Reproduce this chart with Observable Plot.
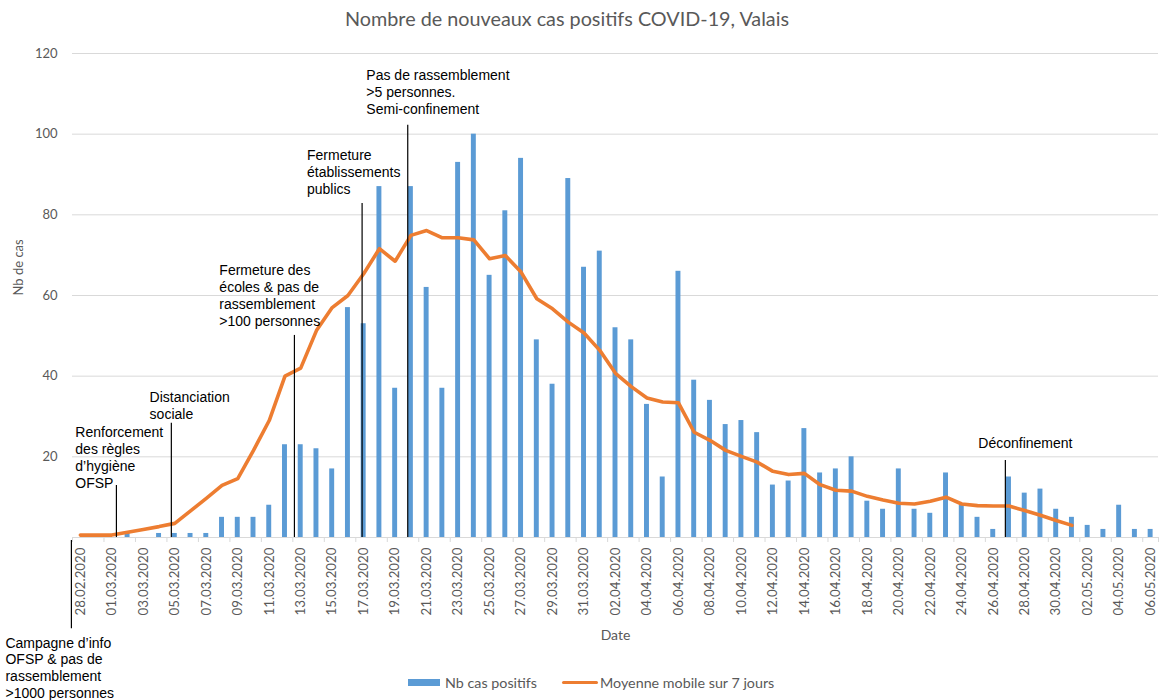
<!DOCTYPE html>
<html>
<head>
<meta charset="utf-8">
<script src="https://cdn.jsdelivr.net/npm/d3@7"></script>
<script src="https://cdn.jsdelivr.net/npm/@observablehq/plot@0.6"></script>
<style>
  body { margin: 0; background: #fff; width: 1168px; height: 700px; position: relative; overflow: hidden; font-family: Lato, "Open Sans", sans-serif; }
  #title { position: absolute; left: 0; top: 0; width: 1134px; height: 36px; line-height: 36px; text-align: center; font-size: 19.8px; color: #595959; }
  #chart { position: absolute; left: 0; top: 36px; }
  .leg { position: absolute; top: 672px; height: 20px; display: flex; align-items: center; font-size: 14.3px; color: #595959; }
  .sw-bar { width: 32px; height: 7px; background: #5B9BD5; margin-right: 5px; }
  .sw-line { width: 36px; height: 3px; background: #ED7D31; margin-right: 2px; border-radius: 2px; }
</style>
</head>
<body>
<div id="title">Nombre de nouveaux cas positifs COVID-19, Valais</div>
<div id="chart"></div>
<div class="leg" style="left:408px"><div class="sw-bar"></div><span>Nb cas positifs</span></div>
<div class="leg" style="left:562px"><div class="sw-line"></div><span>Moyenne mobile sur 7 jours</span></div>
<script>
// Categories: one per day
const dates = [
  "28.02.2020","29.02.2020",
  "01.03.2020","02.03.2020","03.03.2020","04.03.2020","05.03.2020","06.03.2020","07.03.2020","08.03.2020","09.03.2020","10.03.2020",
  "11.03.2020","12.03.2020","13.03.2020","14.03.2020","15.03.2020","16.03.2020","17.03.2020","18.03.2020","19.03.2020","20.03.2020",
  "21.03.2020","22.03.2020","23.03.2020","24.03.2020","25.03.2020","26.03.2020","27.03.2020","28.03.2020","29.03.2020","30.03.2020","31.03.2020",
  "01.04.2020","02.04.2020","03.04.2020","04.04.2020","05.04.2020","06.04.2020","07.04.2020","08.04.2020","09.04.2020","10.04.2020",
  "11.04.2020","12.04.2020","13.04.2020","14.04.2020","15.04.2020","16.04.2020","17.04.2020","18.04.2020","19.04.2020","20.04.2020",
  "21.04.2020","22.04.2020","23.04.2020","24.04.2020","25.04.2020","26.04.2020","27.04.2020","28.04.2020","29.04.2020","30.04.2020",
  "01.05.2020","02.05.2020","03.05.2020","04.05.2020","05.05.2020","06.05.2020"
];

// Series 1: new positive cases per day
const cases = [
  0,0,
  0,1,0,1,1,1,1,5,5,5,
  8,23,23,22,17,57,53,87,37,87,
  62,37,93,100,65,81,94,49,38,89,67,
  71,52,49,33,15,66,39,34,28,29,
  26,13,14,27,16,17,20,9,7,17,
  7,6,16,8,5,2,15,11,12,7,
  5,3,2,8,2,2
];

// Series 2: 7-day moving average (ends on 01.05.2020)
const movingAvg = [
  0.6,0.6,
  0.6,1.3,2.0,2.7,3.5,6.6,9.7,12.9,14.6,21.6,
  29,40,42,51.3,57,60,65.4,71.6,68.5,74.9,
  76.1,74.3,74.3,73.8,69.1,69.9,65.8,59.2,56.7,53.4,50.7,
  46.4,40.7,37.4,34.6,33.6,33.4,26.1,24.1,21.6,20.1,
  18.7,16.4,15.6,15.9,13.1,11.7,11.5,10.2,9.3,8.5,
  8.3,9.0,10.0,8.3,7.9,7.8,7.8,6.7,5.5,4.2,
  3.0
];

const yTicks = [20, 40, 60, 80, 100, 120];

// Annotations (anchored in data units: day index / number of cases)
const annoLabels = [
  "Campagne d’info\nOFSP & pas de\nrassemblement\n>1000 personnes",
  "Renforcement\ndes règles\nd’hygiène\nOFSP",
  "Distanciation\nsociale",
  "Fermeture des\nécoles & pas de\nrassemblement\n>100 personnes",
  "Fermeture\nétablissements\npublics",
  "Pas de rassemblement\n>5 personnes.\nSemi-confinement",
  "Déconfinement"
];
const annoDay = [-0.57, 2.29, 5.78, 13.6, 17.9, 20.8, 58.77];
const annoLineFrom = [-0.74, 0, 0, 0, 0, 0, 0];
const annoLineTo = [-22.6, 12.9, 28.3, 50.1, 82.8, 102.2, 19.1];
const annoTextDay = [-4.76, -0.32, 4.4, 8.83, 14.4, 18.17, 57.05];
const annoTextValue = [-32.2, 19.9, 32.9, 60.1, 90.7, 110.6, 23.6];

const barData = cases.map((v, i) => ({i, v}));
const lineData = movingAvg.map((v, i) => ({i, v}));
const annos = annoLabels.map((label, k) => ({
  label, day: annoDay[k], y1: annoLineFrom[k], y2: annoLineTo[k],
  tx: annoTextDay[k], ty: annoTextValue[k]
}));
const labelTicks = dates.map((d, i) => i).filter(i => i % 2 === 0);
const boundaryTicks = dates.map((d, i) => i - 0.5).filter((b, k) => k % 2 === 0).concat([dates.length - 0.5]);

const chart = Plot.plot({
  width: 1168,
  height: 664,
  marginLeft: 72,
  marginRight: 10,
  marginTop: 17,
  marginBottom: 163,
  style: {fontFamily: "Lato, 'Open Sans', sans-serif", fontSize: "13px", color: "#595959", background: "#fff", overflow: "visible"},
  x: {domain: [-0.5, dates.length - 0.5], axis: null},
  y: {domain: [0, 120], axis: null},
  marks: [
    Plot.gridY(yTicks, {stroke: "#d9d9d9", strokeOpacity: 1, strokeWidth: 1}),
    Plot.ruleY([0], {stroke: "#d9d9d9", strokeWidth: 1}),
    Plot.axisY(yTicks, {tickSize: 0, tickPadding: 15, fontSize: 13, fill: "#595959"}),
    Plot.axisX(boundaryTicks, {tickSize: 5, text: null, stroke: "#d9d9d9", strokeOpacity: 1}),
    Plot.axisX(labelTicks, {tickSize: 0, tickPadding: 10, tickRotate: -90, tickFormat: i => dates[i], fontSize: 13.3, fill: "#595959"}),
    Plot.text(["Nb de cas"], {frameAnchor: "left", rotate: -90, dx: -54, fontSize: 13, fill: "#595959"}),
    Plot.text(["Date"], {frameAnchor: "bottom", dy: 102, fontSize: 14, fill: "#595959"}),
    Plot.rectY(barData, {x1: d => d.i - 0.5, x2: d => d.i + 0.5, y: "v", insetLeft: 5.4, insetRight: 5.4, fill: "#5B9BD5"}),
    Plot.lineY(lineData, {x: "i", y: "v", stroke: "#ED7D31", strokeWidth: 3.6, strokeLinejoin: "round", strokeLinecap: "round"}),
    Plot.ruleX(annos, {x: "day", y1: "y1", y2: "y2", stroke: "#000", strokeWidth: 1.2}),
    Plot.text(annos, {x: "tx", y: "ty", text: "label", textAnchor: "start", lineAnchor: "middle", lineHeight: 1.2, fontSize: 14, fontFamily: "'Liberation Sans', Arial, sans-serif", fill: "#000"})
  ]
});
document.getElementById("chart").appendChild(chart);
</script>
</body>
</html>
